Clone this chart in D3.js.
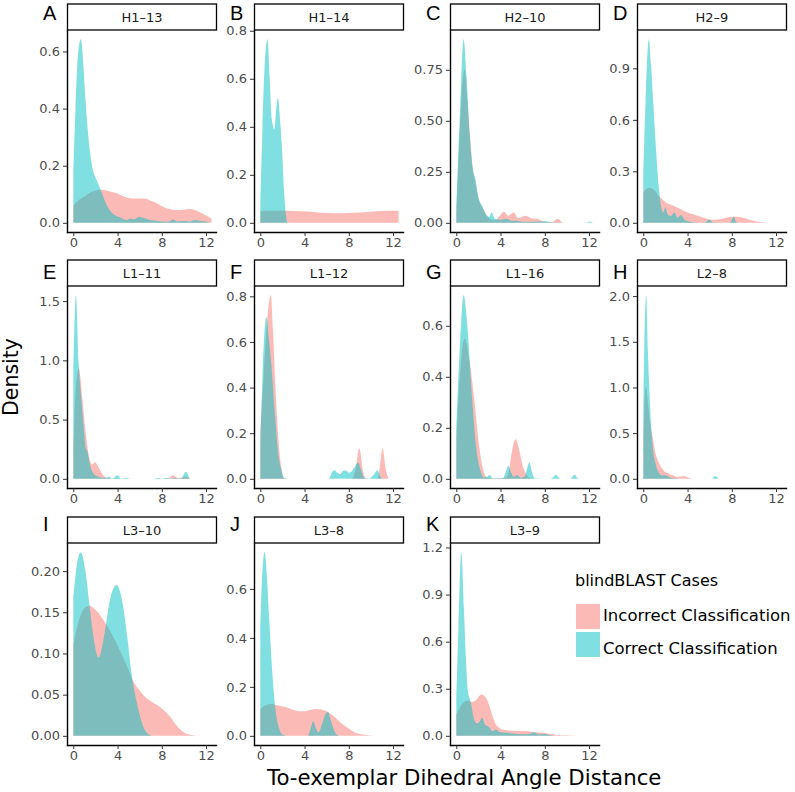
<!DOCTYPE html>
<html>
<head>
<meta charset="utf-8">
<script src="https://cdn.jsdelivr.net/npm/d3@7"></script>
<style>
  body { margin: 0; background: #fff; }
  text { font-family: "DejaVu Sans", sans-serif; }
</style>
</head>
<body>
<svg id="chart" width="795" height="792"></svg>
<script>
// facet names, panel letters and y tick labels
var panelNames = ["H1–13", "H1–14", "H2–10", "H2–9", "L1–11", "L1–12", "L1–16", "L2–8", "L3–10", "L3–8", "L3–9"];
var panelLetters = ["A", "B", "C", "D", "E", "F", "G", "H", "I", "J", "K"];
var xTicks = [0, 4, 8, 12];
var yTickLabels = [
  ["0.0", "0.2", "0.4", "0.6"],
  ["0.0", "0.2", "0.4", "0.6", "0.8"],
  ["0.00", "0.25", "0.50", "0.75"],
  ["0.0", "0.3", "0.6", "0.9"],
  ["0.0", "0.5", "1.0", "1.5"],
  ["0.0", "0.2", "0.4", "0.6", "0.8"],
  ["0.0", "0.2", "0.4", "0.6"],
  ["0.0", "0.5", "1.0", "1.5", "2.0"],
  ["0.00", "0.05", "0.10", "0.15", "0.20"],
  ["0.0", "0.2", "0.4", "0.6"],
  ["0.0", "0.3", "0.6", "0.9", "1.2"]
];
var seriesNames = ["Incorrect Classification", "Correct Classification"];

// density curves: [distance, density]
var incA = [[0,0.06],[0.5,0.08],[1,0.092],[1.5,0.105],[2,0.113],[2.5,0.116],[3,0.113],[3.5,0.108],[4,0.103],[4.5,0.093],[5,0.087],[5.5,0.085],[6,0.085],[6.5,0.084],[7,0.077],[7.5,0.069],[8,0.058],[8.5,0.05],[9,0.046],[9.5,0.045],[10,0.046],[10.5,0.048],[11,0.045],[11.5,0.036],[12,0.026],[12.5,0.015]];
var corA = [[0,0.18],[0.2,0.4],[0.45,0.6],[0.69,0.643],[0.9,0.56],[1.08,0.445],[1.39,0.29],[1.69,0.2],[2.14,0.147],[2.44,0.118],[3.04,0.06],[3.64,0.03],[4.25,0.019],[4.85,0.01],[5.15,0.015],[5.5,0.012],[5.9,0.02],[6.3,0.018],[6.8,0.012],[7.3,0.008],[8,0.005],[8.6,0.004],[9,0.012],[9.4,0.005],[10,0.006],[10.5,0.004],[11,0.01],[11.5,0.006],[12,0.004],[12.3,0]];

var incB = [[0,0.049],[1,0.05],[2,0.05],[3,0.049],[4,0.047],[5,0.044],[6,0.041],[7,0.04],[8,0.041],[9,0.043],[10,0.046],[11,0.049],[12,0.05],[12.5,0.05]];
var corB = [[0,0.08],[0.2,0.4],[0.45,0.7],[0.66,0.765],[0.85,0.6],[1.05,0.43],[1.27,0.39],[1.45,0.48],[1.6,0.52],[1.75,0.45],[1.96,0.31],[2.15,0.13],[2.26,0.057],[2.42,0]];

var incC = [[0,0.05],[0.2,0.3],[0.45,0.6],[0.75,0.75],[1.0,0.6],[1.25,0.42],[1.5,0.26],[1.75,0.19],[2.0,0.12],[2.5,0.06],[3.0,0.02],[3.5,0.012],[4.0,0.04],[4.3,0.054],[4.7,0.035],[5.2,0.05],[5.6,0.022],[6.2,0.035],[6.8,0.022],[7.4,0.018],[8.0,0.005],[8.6,0.003],[9.2,0.02],[9.6,0.002],[10.2,0]];
var corC = [[0,0.08],[0.3,0.5],[0.66,0.9],[0.93,0.72],[1.2,0.44],[1.5,0.26],[1.7,0.22],[2.0,0.125],[2.4,0.075],[2.7,0.04],[3.0,0.03],[3.2,0.05],[3.5,0.02],[4.0,0.015],[4.5,0.02],[5.0,0.01],[5.5,0.01],[6.0,0.005],[7.0,0.005],[8.0,0.008],[9.0,0.001],[10,0],[11,0],[11.8,0.001],[12.1,0.006],[12.35,0]];

var incD = [[0,0.177],[0.5,0.204],[1.0,0.19],[1.5,0.15],[2.0,0.12],[2.5,0.105],[3.0,0.09],[3.5,0.075],[4.0,0.06],[5.0,0.04],[6.0,0.02],[6.5,0.018],[7.0,0.022],[7.5,0.03],[8.0,0.036],[8.5,0.036],[9.0,0.03],[9.5,0.02],[10.0,0.012],[10.5,0.005],[11.0,0.002],[11.5,0]];
var corD = [[0,0.3],[0.2,0.7],[0.5,1.07],[0.7,0.92],[0.9,0.7],[1.1,0.48],[1.39,0.216],[1.55,0.12],[1.8,0.06],[2.0,0.09],[2.2,0.05],[2.5,0.04],[2.8,0.06],[3.1,0.03],[3.4,0.045],[3.7,0.02],[4.0,0.01],[4.5,0.004],[5.0,0.001],[5.6,0.002],[5.96,0.02],[6.3,0.002],[7.5,0],[7.9,0.005],[8.16,0.037],[8.4,0.005],[8.6,0]];

var incE = [[0,0.2],[0.25,0.8],[0.5,0.93],[0.8,0.7],[1.1,0.41],[1.4,0.2],[1.7,0.12],[1.96,0.143],[2.2,0.11],[2.5,0.06],[2.8,0.02],[3.2,0.005],[4,0.002],[5,0],[7,0],[8.3,0.003],[8.7,0.01],[9.0,0.03],[9.4,0.01],[9.8,0.01],[10.2,0.02],[10.6,0]];
var corE = [[0,0.9],[0.24,1.55],[0.48,0.98],[0.7,0.7],[0.93,0.45],[1.1,0.27],[1.3,0.22],[1.5,0.12],[1.8,0.05],[2.2,0.02],[2.6,0.01],[3.0,0.008],[3.2,0.02],[3.5,0.001],[4.0,0.03],[4.3,0.002],[4.8,0.01],[5.2,0],[7.3,0],[7.6,0.008],[8.0,0.001],[8.3,0.01],[8.8,0.002],[9.2,0.01],[9.6,0.002],[9.9,0.02],[10.15,0.059],[10.5,0]];

var incF = [[0,0.2],[0.3,0.45],[0.6,0.68],[0.95,0.805],[1.15,0.65],[1.35,0.42],[1.6,0.2],[1.9,0.05],[2.1,0.005],[2.5,0],[8.3,0],[8.6,0.04],[8.95,0.133],[9.3,0.03],[9.6,0],[10.6,0],[10.8,0.05],[11.05,0.133],[11.35,0.04],[11.6,0]];
var corF = [[0,0.15],[0.2,0.45],[0.54,0.71],[0.8,0.6],[1.0,0.5],[1.3,0.3],[1.6,0.12],[1.9,0.04],[2.2,0.002],[2.5,0],[6.2,0],[6.45,0.025],[6.7,0.038],[7.0,0.025],[7.2,0.02],[7.5,0.035],[7.7,0.038],[8.0,0.027],[8.2,0.03],[8.5,0.05],[8.85,0.072],[9.1,0.04],[9.4,0.005],[9.8,0.001],[10.2,0.015],[10.6,0.038],[10.85,0.01],[11.0,0]];

var incG = [[0,0.15],[0.4,0.45],[0.75,0.55],[1.2,0.46],[1.6,0.32],[2.0,0.15],[2.4,0.04],[2.8,0.005],[3.5,0.001],[4.5,0.005],[4.8,0.04],[5.0,0.1],[5.36,0.155],[5.7,0.11],[6.0,0.05],[6.3,0.02],[6.6,0.004],[7.0,0]];
var corG = [[0,0.2],[0.3,0.5],[0.66,0.72],[1.0,0.6],[1.4,0.33],[1.8,0.12],[2.2,0.03],[2.5,0.005],[2.8,0.008],[3.0,0.016],[3.3,0.002],[4.2,0.002],[4.5,0.03],[4.7,0.051],[4.95,0.025],[5.2,0.008],[5.5,0.015],[5.8,0.004],[6.2,0.01],[6.4,0.04],[6.6,0.065],[6.85,0.025],[7.1,0.002],[8.5,0],[8.8,0.008],[9.0,0.016],[9.25,0.005],[9.5,0],[10.3,0],[10.5,0.008],[10.7,0.016],[10.95,0.003],[11.1,0]];

var incH = [[0,0.4],[0.1,0.8],[0.24,1.01],[0.4,0.85],[0.6,0.62],[0.87,0.44],[1.08,0.29],[1.39,0.18],[1.84,0.09],[2.3,0.055],[2.74,0.036],[3.1,0.02],[3.4,0.025],[3.7,0.03],[4.0,0.015],[4.3,0.004],[4.6,0]];
var corH = [[0,0.8],[0.1,1.5],[0.27,2.01],[0.42,1.38],[0.57,0.91],[0.72,0.55],[0.87,0.33],[1.08,0.18],[1.3,0.09],[1.7,0.036],[2.0,0.04],[2.3,0.02],[2.6,0.01],[3.0,0.004],[3.5,0.001],[4.5,0],[6.2,0],[6.5,0.03],[6.8,0]];

var incI = [[0,0.11],[0.5,0.14],[1.0,0.155],[1.45,0.158],[2.0,0.153],[2.5,0.145],[3.0,0.135],[3.5,0.123],[4.0,0.11],[4.5,0.095],[5.0,0.08],[5.5,0.064],[6.0,0.055],[6.5,0.047],[7.0,0.042],[7.5,0.038],[8.1,0.032],[8.7,0.024],[9.3,0.013],[9.9,0.005],[10.5,0.0015],[11.0,0.0005],[12.3,0]];
var corI = [[0,0.169],[0.35,0.21],[0.66,0.223],[1.1,0.2],[1.5,0.154],[1.93,0.111],[2.29,0.095],[2.77,0.12],[3.3,0.164],[3.9,0.183],[4.4,0.165],[4.88,0.12],[5.27,0.075],[5.78,0.038],[6.3,0.012],[6.8,0.002],[7.1,0]];

var incJ = [[0,0.11],[0.5,0.125],[1.0,0.13],[1.5,0.125],[2.0,0.12],[2.5,0.115],[3.0,0.105],[3.5,0.1],[4.0,0.1],[4.5,0.105],[5.0,0.11],[5.5,0.107],[6.0,0.1],[6.5,0.085],[7.0,0.065],[7.5,0.045],[8.0,0.03],[8.5,0.015],[9.0,0.007],[9.5,0.003],[10.0,0.001],[10.5,0]];
var corJ = [[0,0.45],[0.2,0.68],[0.39,0.75],[0.6,0.65],[0.78,0.5],[1.1,0.25],[1.39,0.1],[1.7,0.03],[2.0,0.005],[2.5,0],[4.3,0],[4.55,0.03],[4.79,0.059],[5.0,0.035],[5.27,0.014],[5.6,0.05],[5.85,0.085],[6.11,0.097],[6.4,0.06],[6.7,0.02],[6.9,0.005],[7.1,0]];

var incK = [[0,0.135],[0.5,0.2],[1.05,0.225],[1.4,0.215],[1.8,0.23],[2.26,0.264],[2.6,0.25],[3.0,0.19],[3.3,0.12],[3.6,0.07],[4.0,0.045],[4.5,0.035],[5.0,0.032],[6.0,0.03],[7.0,0.025],[8.0,0.018],[9.0,0.007],[10.0,0.003],[11.0,0.001],[12.4,0]];
var corK = [[0,0.25],[0.2,0.7],[0.45,1.17],[0.69,0.81],[0.87,0.49],[1.02,0.3],[1.17,0.245],[1.35,0.2],[1.55,0.12],[1.84,0.08],[2.1,0.09],[2.35,0.115],[2.6,0.07],[2.9,0.06],[3.3,0.03],[3.6,0.04],[3.9,0.025],[4.5,0.02],[5.0,0.015],[6.0,0.01],[6.6,0.012],[7.0,0.022],[7.4,0.01],[8.0,0.012],[8.5,0.003],[9.0,0]];

var incorrectCurves = [incA, incB, incC, incD, incE, incF, incG, incH, incI, incJ, incK];
var correctCurves = [corA, corB, corC, corD, corE, corF, corG, corH, corI, corJ, corK];

var fillInc = "#F8766D", fillCor = "#00BFC4";

// layout
var svg = d3.select("#chart");
var colLeft = [67, 254, 450, 637];
var stripTop = [4, 260, 517];
var letterBase = [20, 279, 531];
var stripH = 26, plotW = 149, plotH = 202;

panelNames.forEach(function(name, i) {
  var col = i % 4, row = Math.floor(i / 4);
  var left = colLeft[col], top = stripTop[row] + stripH;
  var inc = incorrectCurves[i], cor = correctCurves[i];

  var x = d3.scaleLinear().domain([-0.57, 12.9]).range([left, left + plotW]);
  var ymax = d3.max(inc.concat(cor), function(d) { return d[1]; });
  var y = d3.scaleLinear().domain([-0.05 * ymax, 1.05 * ymax]).range([top + plotH, top]);

  var area = d3.area()
    .x(function(d) { return x(d[0]); })
    .y0(y(0))
    .y1(function(d) { return y(Math.max(0, d[1])); })
    .curve(d3.curveMonotoneX);

  var g = svg.append("g");
  g.append("path").attr("d", area(inc)).attr("fill", fillInc).attr("fill-opacity", 0.5);
  g.append("path").attr("d", area(cor)).attr("fill", fillCor).attr("fill-opacity", 0.5);

  var labels = yTickLabels[i];
  var yAxis = g.append("g")
    .attr("transform", "translate(" + left + ",0)")
    .call(d3.axisLeft(y)
      .tickValues(labels.map(function(s) { return +s; }))
      .tickFormat(function(d, j) { return labels[j]; })
      .tickSize(4).tickSizeOuter(0).tickPadding(3));

  var xAxis = g.append("g")
    .attr("transform", "translate(0," + (top + plotH) + ")")
    .call(d3.axisBottom(x).tickValues(xTicks).tickSize(4).tickSizeOuter(0).tickPadding(2));

  [yAxis, xAxis].forEach(function(ax) {
    ax.select(".domain").attr("stroke", "#000").attr("stroke-width", 1.4).attr("stroke-linecap", "square");
    ax.selectAll(".tick line").attr("stroke", "#333").attr("stroke-width", 1);
    ax.selectAll(".tick text")
      .attr("fill", "#4d4d4d")
      .style("font-family", "DejaVu Sans")
      .style("font-size", "13px");
  });

  // strip
  g.append("rect")
    .attr("x", left + 0.5).attr("y", stripTop[row])
    .attr("width", plotW).attr("height", stripH)
    .attr("fill", "#fff").attr("stroke", "#000").attr("stroke-width", 1.3);
  g.append("text")
    .attr("x", left + 0.5 + plotW / 2).attr("y", stripTop[row] + 18)
    .attr("text-anchor", "middle")
    .attr("fill", "#1a1a1a")
    .style("font-size", "13px")
    .text(name);

  g.append("text")
    .attr("x", left - 24).attr("y", letterBase[row])
    .style("font-family", "Liberation Sans, Arial, sans-serif")
    .style("font-size", "20px")
    .attr("fill", "#000")
    .text(panelLetters[i]);
});

// axis titles
svg.append("text")
  .attr("transform", "translate(18,377) rotate(-90)")
  .attr("text-anchor", "middle")
  .style("font-size", "20.5px")
  .text("Density");

svg.append("text")
  .attr("x", 267).attr("y", 785)
  .style("font-size", "21.3px")
  .text("To-exemplar Dihedral Angle Distance");

// legend
var legend = svg.append("g");
legend.append("text")
  .attr("x", 575).attr("y", 586)
  .style("font-size", "16px")
  .text("blindBLAST Cases");

[fillInc, fillCor].forEach(function(c, i) {
  legend.append("rect")
    .attr("x", 576).attr("y", 604 + i * 28)
    .attr("width", 24).attr("height", 25)
    .attr("fill", c).attr("fill-opacity", 0.5);
  legend.append("text")
    .attr("x", 603).attr("y", 621 + i * 33)
    .style("font-size", "16.5px")
    .text(seriesNames[i]);
});
</script>
</body>
</html>
